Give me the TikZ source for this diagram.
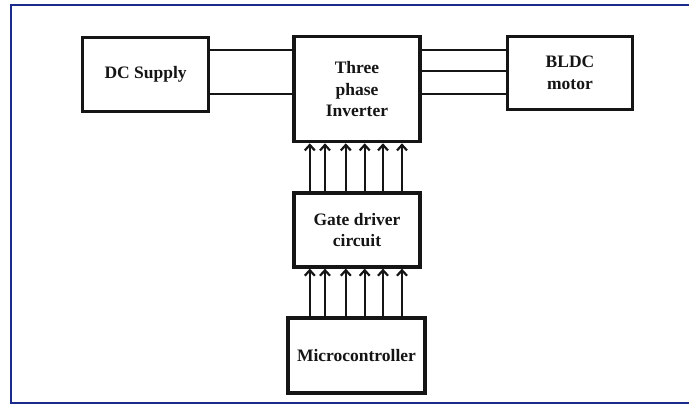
\documentclass[tikz,border=0pt]{standalone}
\usepackage{fontspec}
\setmainfont{Liberation Serif}
\usetikzlibrary{arrows.meta}
\definecolor{framec}{HTML}{1C2A8C}
\definecolor{inkc}{HTML}{151515}
\tikzset{
  blk/.style={draw=inkc, line width=3.2pt, align=center, text=inkc,
    font=\fontsize{17.5}{21.5}\selectfont\bfseries, inner sep=0pt},
  wire/.style={draw=inkc, line width=2.3pt},
  arr/.style={draw=inkc, line width=2.2pt, -{Straight Barb[length=5.5pt,width=10pt]}},
}
\begin{document}
\begin{tikzpicture}[x=1pt,y=-1pt]
\useasboundingbox (0,0) rectangle (689,405);
\draw[framec, line width=1.6pt] (689,4.8) -- (10.8,4.8) -- (10.8,403.2) -- (689,403.2);
\node[blk, minimum width=126pt, minimum height=74pt] (dc) at (145.6,74.7) {DC Supply};
\node[blk, minimum width=126pt, minimum height=105pt] (inv) at (357,89.2) {Three\\phase\\Inverter};
\node[blk, minimum width=125pt, minimum height=72.6pt] (bldc) at (570,73) {BLDC\\motor};
\node[blk, minimum width=126pt, minimum height=74pt] (gate) at (357,230) {Gate driver\\circuit};
\node[blk, minimum width=137pt, minimum height=75pt] (mcu) at (356.5,355.5) {Microcontroller};
% DC supply to inverter
\foreach \s in {24.7,-19.6}{
  \draw[wire] ([yshift=\s pt]dc.east) -- ([yshift=\s pt]dc.east -| inv.west);
}
% inverter to motor
\foreach \s in {23,2,-21.3}{
  \draw[wire] ([yshift=\s pt]bldc.west -| inv.east) -- ([yshift=\s pt]bldc.west);
}
% gate signals
\foreach \d [count=\i] in {-47.2,-32,-11.2,7.7,26,45}{
  \coordinate (g\i) at ([xshift=\d pt]gate.north);
  \coordinate (h\i) at ([xshift=\d pt]gate.south);
  \draw[arr] (g\i) -- (g\i |- inv.south);
  \draw[arr] (h\i |- mcu.north) -- (h\i);
}
\end{tikzpicture}
\end{document}
